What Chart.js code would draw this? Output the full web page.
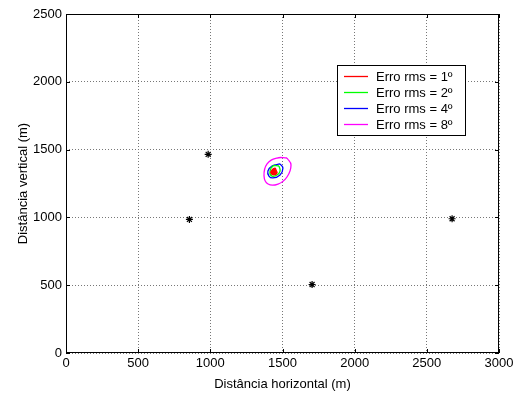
<!DOCTYPE html>
<html>
<head>
<meta charset="utf-8">
<script src="https://cdn.jsdelivr.net/npm/chart.js@4"></script>
<style>
  body { margin: 0; background: #fff; }
  canvas { display: block; }
</style>
</head>
<body>
<canvas id="chart" width="520" height="394"></canvas>
<script>
// Emitter positions (black stars)
const emitterX = [985, 855, 1705, 2675];
const emitterY = [1465, 985, 505, 990];

// Error contours (closed curves)
const rms1X = [1455, 1462, 1441, 1420, 1427, 1448];
const rms1Y = [1350, 1327, 1313, 1327, 1350, 1364];
const rms2X = [1476, 1483, 1462, 1427, 1413, 1434];
const rms2Y = [1379, 1342, 1313, 1305, 1335, 1379];
const rms4X = [1483, 1503, 1483, 1434, 1406, 1399, 1427];
const rms4Y = [1394, 1364, 1313, 1291, 1305, 1342, 1379];
const rms8X = [1531, 1559, 1531, 1469, 1400, 1372, 1393, 1462];
const rms8Y = [1438, 1387, 1298, 1246, 1246, 1305, 1394, 1438];

const contourLabels = ['Erro rms = 1º', 'Erro rms = 2º', 'Erro rms = 4º', 'Erro rms = 8º'];
const contourColors = ['#ff0000', '#00ff00', '#0000ff', '#ff00ff'];

const xTicks = [0, 500, 1000, 1500, 2000, 2500, 3000];
const yTicks = [0, 500, 1000, 1500, 2000, 2500];

const FONT = 'Liberation Sans, Arial, sans-serif';

function closedPoints(xs, ys) {
    const pts = xs.map((x, i) => ({ x: x, y: ys[i] }));
    pts.push(pts[0]);
    return pts;
}

const contours = [[rms1X, rms1Y], [rms2X, rms2Y], [rms4X, rms4Y], [rms8X, rms8Y]];

const datasets = contours.map((c, i) => ({
    label: contourLabels[i],
    data: closedPoints(c[0], c[1]),
    showLine: true,
    borderColor: contourColors[i],
    backgroundColor: contourColors[i],
    borderWidth: 1.3,
    pointRadius: 0,
    tension: 0.45,
    fill: i === 0 ? 'shape' : false,
    order: i + 1
}));

datasets.push({
    label: 'emissores',
    data: emitterX.map((x, i) => ({ x: x, y: emitterY[i] })),
    showLine: false,
    pointStyle: 'star',
    pointRadius: 3.5,
    borderColor: '#000',
    backgroundColor: '#000',
    borderWidth: 1.2,
    order: 0
});

// Box, inward tick marks and legend, MATLAB style
const matlabFrame = {
    id: 'matlabFrame',
    afterDraw(chart) {
        const ctx = chart.ctx;
        const a = chart.chartArea;
        const xs = chart.scales.x, ys = chart.scales.y;
        ctx.save();
        ctx.strokeStyle = '#000';
        ctx.lineWidth = 1;
        ctx.strokeRect(a.left + 0.5, a.top + 0.5, a.right - a.left - 1, a.bottom - a.top - 1);
        ctx.beginPath();
        xTicks.forEach(v => {
            const px = Math.round(xs.getPixelForValue(v)) + 0.5;
            ctx.moveTo(px, a.bottom); ctx.lineTo(px, a.bottom - 4);
            ctx.moveTo(px, a.top); ctx.lineTo(px, a.top + 4);
        });
        yTicks.forEach(v => {
            const py = Math.round(ys.getPixelForValue(v)) + 0.5;
            ctx.moveTo(a.left, py); ctx.lineTo(a.left + 4, py);
            ctx.moveTo(a.right, py); ctx.lineTo(a.right - 4, py);
        });
        ctx.stroke();

        // legend
        const lx = 337, ly = 65, lw = 128, lh = 70;
        ctx.fillStyle = '#fff';
        ctx.fillRect(lx, ly, lw, lh);
        ctx.strokeRect(lx + 0.5, ly + 0.5, lw, lh);
        ctx.font = '13px ' + FONT;
        ctx.textBaseline = 'middle';
        contourLabels.forEach((lab, i) => {
            const y = ly + 11 + i * 16;
            ctx.strokeStyle = contourColors[i];
            ctx.lineWidth = 1.3;
            ctx.beginPath();
            ctx.moveTo(lx + 7, y + 0.5); ctx.lineTo(lx + 31, y + 0.5);
            ctx.stroke();
            ctx.fillStyle = '#000';
            ctx.fillText(lab, lx + 39, y + 1);
        });
        ctx.restore();
    }
};

new Chart(document.getElementById('chart'), {
    type: 'scatter',
    data: { datasets: datasets },
    options: {
        responsive: false,
        animation: false,
        devicePixelRatio: 1,
        layout: { padding: { left: 0, right: 21, top: 14, bottom: 0 } },
        plugins: {
            legend: { display: false },
            tooltip: { enabled: false }
        },
        scales: {
            x: {
                type: 'linear',
                min: 0, max: 3000,
                afterBuildTicks: s => { s.ticks = xTicks.map(v => ({ value: v })); },
                afterFit: s => { s.height = 41; },
                ticks: { color: '#000', font: { family: FONT, size: 13 }, padding: 3, maxRotation: 0,
                         callback: v => String(v) },
                grid: { color: '#777', drawTicks: false },
                border: { display: false, dash: [1, 2] },
                title: { display: true, text: 'Distância horizontal (m)', color: '#000',
                         font: { family: FONT, size: 13 }, padding: { top: 0, bottom: 2 } }
            },
            y: {
                type: 'linear',
                min: 0, max: 2500,
                afterBuildTicks: s => { s.ticks = yTicks.map(v => ({ value: v })); },
                afterFit: s => { s.width = 66; },
                ticks: { color: '#000', font: { family: FONT, size: 13 }, padding: 4,
                         callback: v => String(v) },
                grid: { color: '#777', drawTicks: false },
                border: { display: false, dash: [1, 2] },
                title: { display: true, text: 'Distância vertical (m)', color: '#000',
                         font: { family: FONT, size: 13 }, padding: { top: 16, bottom: 0 } }
            }
        }
    },
    plugins: [matlabFrame]
});
</script>
</body>
</html>
